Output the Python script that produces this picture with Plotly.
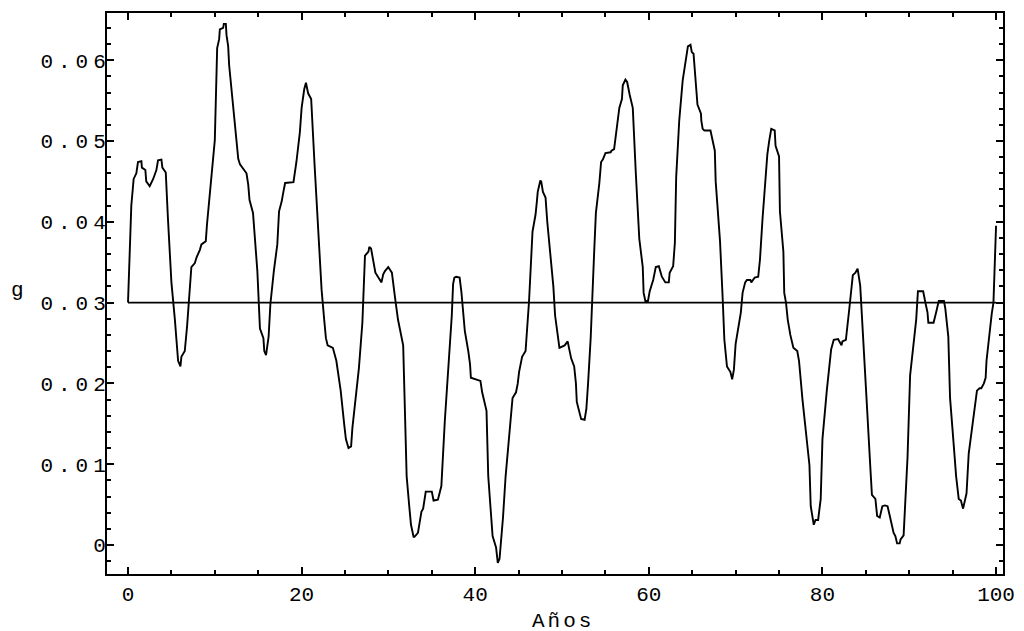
import plotly.graph_objects as go

# tiempo (años) y tasa g
years = [
    0, 0.38, 0.65, 0.96, 1.15, 1.54, 1.6, 2.0, 2.1, 2.5, 2.9, 3.27, 3.46, 3.85, 3.96, 4.35,
    4.6, 5.0, 5.4, 5.77, 6.04, 6.15, 6.54, 6.8, 7.3, 7.7, 7.9, 8.27, 8.46, 8.96, 9.1, 9.4,
    9.8, 10.0, 10.27, 10.5, 10.58, 10.96, 11.04, 11.27, 11.35, 11.54, 11.65, 12.1, 12.4,
    12.7, 12.9, 13.35, 13.65, 13.85, 14.0, 14.4,
    14.9, 15.2, 15.6, 15.7, 15.9, 16.2, 16.4, 16.8, 17.2, 17.4, 17.7, 17.9, 18.1, 19.06,
    19.25, 19.4, 19.8, 20.0, 20.3, 20.5, 20.75, 21.1, 21.5, 22.1, 22.3, 22.6, 22.8, 23.0,
    23.6, 24.0, 24.5, 24.9, 25.1, 25.4, 25.7, 25.85, 26.2, 26.6, 27.0, 27.3, 27.7, 27.8,
    28.0, 28.3, 28.5, 28.9, 29.2, 29.4, 29.6, 29.98, 30.4, 30.75, 31.1,
    31.7, 31.9, 32.1, 32.4, 32.6, 32.9, 33.0, 33.4, 33.6, 33.8, 34.0, 34.2, 34.3, 35.0,
    35.2, 35.7, 35.9, 36.1, 36.5, 36.9, 37.3, 37.45, 37.6, 37.8, 38.2, 38.4, 38.8, 39.2,
    39.4, 39.5, 40.0, 40.6, 40.8, 41.3, 41.5, 41.8, 42.0, 42.4, 42.6, 42.8, 43.0, 43.2,
    43.5, 43.9, 44.3, 44.7, 44.9, 45.05, 45.2, 45.4, 45.8, 46.2, 46.6, 46.95, 47.1, 47.2,
    47.5, 47.6, 47.8, 48.1, 48.3, 48.7,
    49.0, 49.2, 49.5, 49.7, 50.3, 50.65, 50.8, 51.05, 51.4, 51.6, 51.7, 52.0, 52.2, 52.6,
    52.8, 53.0, 53.3, 53.7, 53.9, 54.3, 54.5, 54.7, 55.0, 55.6, 55.7, 56.0, 56.15, 56.4,
    56.6, 56.9, 57.0, 57.3, 57.5, 57.8, 58.15, 58.5, 58.9, 59.3, 59.4, 59.6, 59.9, 60.1,
    60.5, 60.8, 61.0, 61.15, 61.5, 61.9, 62.3, 62.4, 62.8, 63.0, 63.15, 63.5, 63.9, 64.1,
    64.3, 64.5, 64.8, 64.95, 65.15, 65.35, 65.6, 66.0, 66.05, 66.2, 66.4,
    67.1, 67.3, 67.6, 67.7, 68.2, 68.5, 68.7, 69.0, 69.4, 69.6, 69.8, 70.0, 70.4, 70.6,
    70.8, 71.1, 71.3, 71.7, 71.8, 72.2, 72.6, 72.8, 73.1, 73.4, 73.65, 73.85, 74.1, 74.5,
    74.6, 75.0, 75.1, 75.5, 75.6, 75.8, 76.0, 76.3, 76.65, 77.1, 77.3, 77.7, 78.1, 78.5,
    78.65, 78.85, 79.0, 79.2, 79.5, 79.8, 80.0, 80.5, 81.0, 81.3, 81.8, 82.0, 82.2, 82.3,
    82.7, 83.1,
    83.5, 83.8, 84.05, 84.35, 84.7, 85.1, 85.5, 85.7, 86.1, 86.3, 86.6, 86.9, 87.2, 87.5,
    87.8, 88.2, 88.4, 88.6, 88.9, 89.0, 89.35, 89.5, 89.8, 90.1, 90.5, 90.8, 91.0, 91.6,
    91.9, 92.1, 92.2, 92.8, 93.1, 93.4, 94.0, 94.15, 94.5, 94.7, 95.1, 95.4, 95.7, 95.95,
    96.2, 96.35, 96.6, 96.85, 97.2, 97.6, 97.8, 98.1, 98.3, 98.6, 98.8, 98.9, 99.15, 99.5,
    99.7, 100.0,
]

g_values = [
    0.03, 0.042, 0.0453, 0.046, 0.0474, 0.0475, 0.0467, 0.0464, 0.045, 0.0444, 0.0453,
    0.0464, 0.0476, 0.0477, 0.0467, 0.0461, 0.0404, 0.0325, 0.0279, 0.0228, 0.0221, 0.0233,
    0.024, 0.027, 0.0344, 0.0349, 0.0356, 0.0365, 0.0372, 0.0376, 0.0397, 0.0432, 0.0474,
    0.0501, 0.0615, 0.0626, 0.0638, 0.064, 0.0645, 0.0645, 0.0631, 0.0617, 0.0594, 0.0541,
    0.0504, 0.0478, 0.0471, 0.0464, 0.046, 0.0446, 0.0427, 0.0411,
    0.0339, 0.0268, 0.0256, 0.024, 0.0235, 0.0258, 0.0298, 0.0339, 0.0372, 0.0413, 0.0425,
    0.0437, 0.0448, 0.0449, 0.0462, 0.0474, 0.0511, 0.0541, 0.0564, 0.0572, 0.0559, 0.0552,
    0.0469, 0.0356, 0.0316, 0.0279, 0.0256, 0.0247, 0.0244, 0.0228, 0.0191, 0.015, 0.0131,
    0.012, 0.0122, 0.0145, 0.0177, 0.0219, 0.0275, 0.0358, 0.0363, 0.0369, 0.0367, 0.0349,
    0.0337, 0.033, 0.0325, 0.0335, 0.0339, 0.0344, 0.0337, 0.0307, 0.0279,
    0.0247, 0.0154, 0.0085, 0.0048, 0.0025, 0.001, 0.001, 0.0015, 0.0029, 0.0041, 0.0045,
    0.0062, 0.0066, 0.0066, 0.0055, 0.0056, 0.0066, 0.0073, 0.0154, 0.0219, 0.0284, 0.0323,
    0.0331, 0.0332, 0.0331, 0.0314, 0.0265, 0.024, 0.0224, 0.0207, 0.0205, 0.0203, 0.0189,
    0.0166, 0.0085, 0.0038, 0.0011, -0.0003, -0.0022, -0.0017, 0.0006, 0.0034, 0.0085,
    0.0136, 0.0182, 0.0189, 0.02, 0.0214, 0.0221, 0.0233, 0.024, 0.0302, 0.0388, 0.0409,
    0.0425, 0.0437, 0.0451, 0.045, 0.0437, 0.043, 0.04, 0.0358,
    0.032, 0.0284, 0.0256, 0.0244, 0.0247, 0.0252, 0.0244, 0.0231, 0.0221, 0.02, 0.0177,
    0.0166, 0.0156, 0.0155, 0.0168, 0.02, 0.0256, 0.0362, 0.0411, 0.0448, 0.0474, 0.0477,
    0.0485, 0.0486, 0.0488, 0.049, 0.0504, 0.0525, 0.0541, 0.0552, 0.0569, 0.0576, 0.0573,
    0.0557, 0.0541, 0.046, 0.0379, 0.0344, 0.0312, 0.0302, 0.0302, 0.0314, 0.0328, 0.0344,
    0.0345, 0.0345, 0.0332, 0.0325, 0.0325, 0.0337, 0.0345, 0.0374, 0.0455, 0.0525, 0.0575,
    0.0589, 0.0603, 0.0617, 0.0619, 0.061, 0.0608, 0.058, 0.0545, 0.0534, 0.0525, 0.0515,
    0.0513,
    0.0513, 0.0504, 0.0488, 0.045, 0.0376, 0.0307, 0.0254, 0.0221, 0.0214, 0.0205, 0.0217,
    0.0249, 0.0277, 0.0288, 0.0312, 0.0325, 0.0328, 0.0328, 0.0325, 0.0331, 0.0332, 0.0353,
    0.0404, 0.0455, 0.0483, 0.0499, 0.0515, 0.0513, 0.0494, 0.0481, 0.0413, 0.0363, 0.0312,
    0.03, 0.0279, 0.026, 0.0244, 0.024, 0.0228, 0.018, 0.0136, 0.0099, 0.0048, 0.0031,
    0.0025, 0.0031, 0.0031, 0.0057, 0.0131, 0.0191, 0.0242, 0.0254, 0.0255, 0.0251, 0.0247,
    0.0252, 0.0254, 0.0293,
    0.0334, 0.0337, 0.0342, 0.0321, 0.0247, 0.0177, 0.0099, 0.0062, 0.0057, 0.0036, 0.0034,
    0.0048, 0.0049, 0.0048, 0.0034, 0.0015, 0.0011, 0.0002, 0.0002, 0.0007, 0.0012, 0.0048,
    0.0108, 0.021, 0.0251, 0.0279, 0.0314, 0.0314, 0.0298, 0.0288, 0.0275, 0.0275, 0.0288,
    0.0302, 0.0302, 0.0293, 0.0258, 0.0182, 0.0127, 0.0085, 0.0057, 0.0055, 0.0045, 0.0052,
    0.0064, 0.0113, 0.014, 0.0172, 0.0191, 0.0194, 0.0194, 0.02, 0.0207, 0.0228, 0.0256,
    0.0286, 0.03, 0.0395,
]

g_mean = 0.03
mean_span = [0, 100]

x_ticks = [0, 20, 40, 60, 80, 100]
y_ticks = [0, 0.01, 0.02, 0.03, 0.04, 0.05, 0.06]
y_tick_labels = ["0", "0.01", "0.02", "0.03", "0.04", "0.05", "0.06"]

FONT = "Liberation Mono, Courier New, monospace"

fig = go.Figure()
fig.add_trace(go.Scatter(x=mean_span, y=[g_mean, g_mean], mode="lines",
                         line=dict(color="black", width=1.8), hoverinfo="skip"))
fig.add_trace(go.Scatter(x=years, y=g_values, mode="lines",
                         line=dict(color="black", width=1.9)))

axis_common = dict(showline=True, linecolor="black", linewidth=2, mirror="allticks",
                   ticks="inside", ticklen=7, tickwidth=1.5, tickcolor="black",
                   showgrid=False, zeroline=False, automargin=False,
                   tickfont=dict(family=FONT, size=21, color="black"))

fig.update_xaxes(range=[-2.42, 100.8], tickvals=x_ticks,
                 minor=dict(dtick=5, ticks="inside", ticklen=4, tickcolor="black",
                            showgrid=False),
                 **axis_common)
fig.update_yaxes(range=[-0.00359, 0.06584], tickvals=y_ticks,
                 ticktext=[f'<span style="letter-spacing:5px">{t}</span>' for t in y_tick_labels],
                 minor=dict(dtick=0.002, ticks="inside", ticklen=4, tickcolor="black",
                            showgrid=False),
                 ticklabelstandoff=-10,
                 **axis_common)

fig.add_annotation(text="g", xref="paper", yref="paper", x=-0.1, y=0.506,
                   xanchor="center", yanchor="middle",
                   showarrow=False, font=dict(family=FONT, size=21, color="black"))
fig.add_annotation(text='<span style="letter-spacing:3px">Años</span>',
                   xref="paper", yref="paper", x=0.509, y=-0.0838,
                   xanchor="center", yanchor="middle",
                   showarrow=False, font=dict(family=FONT, size=21, color="black"))

# la página añade ~8 px de margen al cuerpo; se compensa en los márgenes
fig.update_layout(width=1024, height=631, showlegend=False,
                  paper_bgcolor="white", plot_bgcolor="white",
                  margin=dict(l=99, r=29, t=5, b=65))

fig.write_html("out.html")
